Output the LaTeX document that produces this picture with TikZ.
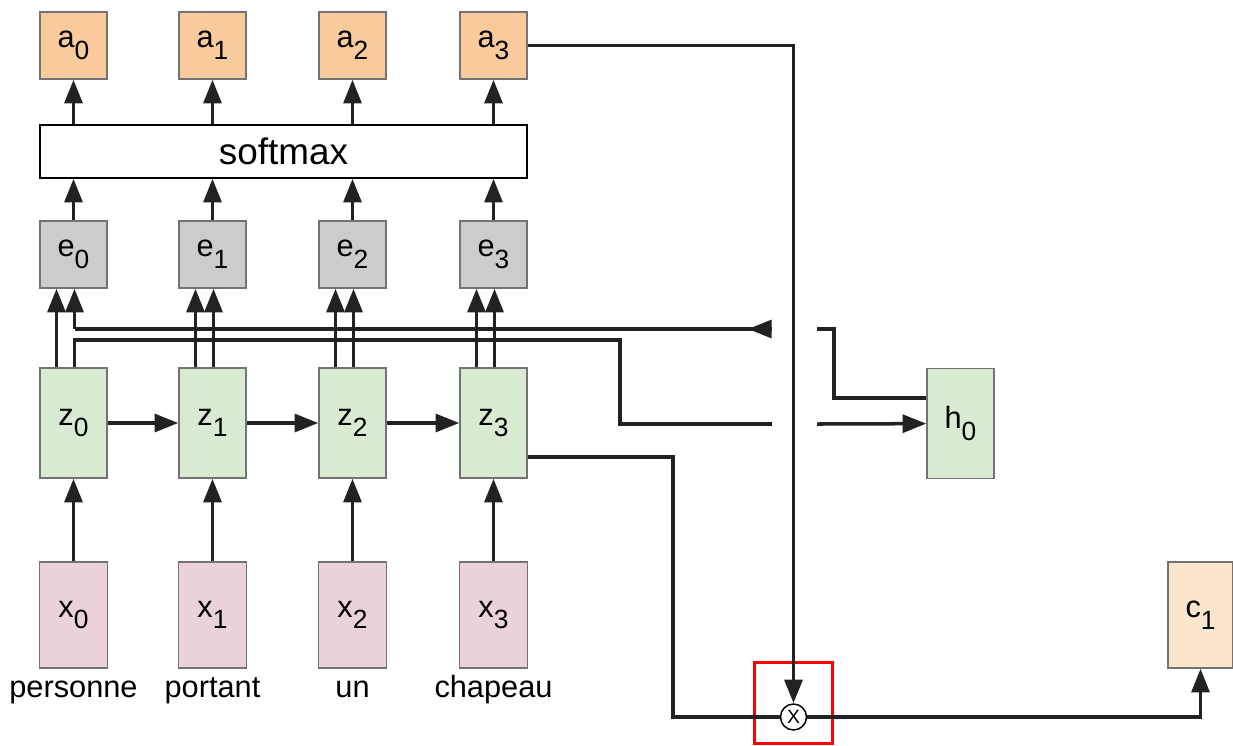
\documentclass[tikz,border=0pt]{standalone}
\usepackage{fontspec}
\setmainfont{Liberation Sans}
\usepackage{tikz}
\usetikzlibrary{calc,arrows.meta}
\usepackage{xcolor}
\definecolor{attc}{HTML}{F9CB9C}
\definecolor{enec}{HTML}{CCCCCC}
\definecolor{hidc}{HTML}{D9EAD3}
\definecolor{inpc}{HTML}{EAD1DC}
\definecolor{ctxc}{HTML}{FCE5CD}
\definecolor{wirec}{HTML}{222222}
\newcommand{\sublbl}[2]{#1\raisebox{-0.38em}{\fontsize{15}{15}\selectfont #2}}
\tikzset{
  cell/.style={rectangle,draw=black!55,line width=0.85pt,inner sep=0pt,font=\fontsize{17.5}{20}\selectfont},
  acell/.style={cell,fill=attc,minimum width=1.34cm,minimum height=1.34cm},
  ecell/.style={cell,fill=enec,minimum width=1.34cm,minimum height=1.34cm},
  zcell/.style={cell,fill=hidc,minimum width=1.34cm,minimum height=2.2cm},
  xcell/.style={cell,fill=inpc,minimum width=1.36cm,minimum height=2.12cm},
  word/.style={font=\fontsize{17.5}{20}\selectfont,inner sep=0pt},
  wire/.style={line width=2pt,wirec},
  arr/.style={wire,-{Triangle[length=13.5pt,width=10.2pt]}},
}

\begin{document}
\begin{tikzpicture}[x=0.02cm,y=-0.02cm]
  \useasboundingbox (0,0) rectangle (1233,745);
  % columns: attention, energies, encoder states, inputs
  \foreach \i/\cx/\w in {0/73.5/personne,1/212.5/portant,2/352.5/un,3/493.5/chapeau}{
    \node[acell] (a\i) at (\cx,45.5) {\sublbl{a}{\i}};
    \node[ecell] (e\i) at (\cx,254.5) {\sublbl{e}{\i}};
    \node[zcell] (z\i) at (\cx,423) {\sublbl{z}{\i}};
    \node[xcell] (x\i) at (\cx,615) {\sublbl{x}{\i}};
    \node[word,anchor=north] (w\i) at (\cx,673) {\strut\w};
    \coordinate (ein\i) at ($(e\i.south)+(1,0)$);
    \coordinate (zout\i) at ($(z\i.north)+(1,0)$);
  }
  \node[rectangle,draw=black,line width=0.85pt,minimum width=9.74cm,minimum height=1.06cm,
        font=\fontsize{21}{24}\selectfont] (sm) at (283.5,151.5) {softmax};
  \node[zcell] (h0) at (960.5,423.5) {\sublbl{h}{0}};
  \node[cell,fill=ctxc,minimum width=1.3cm,minimum height=2.12cm] (c1) at (1200.5,615) {\sublbl{c}{1}};
  \node[circle,draw=black,line width=0.85pt,minimum size=0.52cm,inner sep=0pt,
        font=\fontsize{11}{11}\selectfont] (mul) at (793.5,717) {X};
  \draw[red,line width=1.7pt] (754.5,662) rectangle (832,743);

  % gaps where the wires hop over the vertical line
  \coordinate (upL) at (772,329);
  \coordinate (upR) at (817,329);
  \coordinate (lowL) at (772,424);
  \coordinate (lowR) at (817,424);

  \foreach \i in {0,1,2,3}{
    \draw[arr] (a\i.south |- sm.north) -- (a\i.south);
    \draw[arr] (e\i.north) -- (e\i.north |- sm.south);
    \draw[arr] ($(z\i.north)+(-17,0)$) -- ($(e\i.south)+(-17,0)$);
    \draw[arr] (ein\i |- upL) -- (ein\i);
    \draw[arr] (x\i) -- (z\i);
  }
  \foreach \i in {1,2,3} \draw[wire] (zout\i) -- (ein\i |- upL);
  \draw[arr] (z0) -- (z1);
  \draw[arr] (z1) -- (z2);
  \draw[arr] (z2) -- (z3);

  % decoder state back to the energies
  \draw[wire] ($(h0.west)+(0,-25.5)$) -| (834,329) -- (upR);
  \draw[wire] (upL) -- (ein0 |- upL);
  \draw[arr] (upL) -- ++(-24,0);
  % first encoder state into the decoder
  \draw[wire] (zout0) |- (620,340) |- (lowL);
  \draw[arr] (lowR) -- (h0);

  % weighted sum into the context
  \draw[arr] (a3.east) -| (mul.north);
  \draw[wire] ($(z3.east)+(0,34)$) -| (673,717) -- (mul.west);
  \draw[arr] (mul.east) -| (c1.south);
\end{tikzpicture}
\end{document}
